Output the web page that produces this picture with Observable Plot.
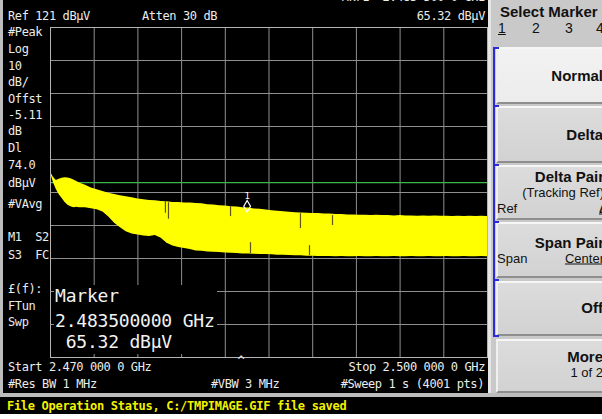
<!DOCTYPE html>
<html>
<head>
<meta charset="utf-8">
<script src="https://cdn.jsdelivr.net/npm/d3@7"></script>
<script src="https://cdn.jsdelivr.net/npm/@observablehq/plot@0.6"></script>
<style>
  html, body { margin:0; padding:0; background:#fff; }
  #screen { position:relative; width:602px; height:419px; overflow:hidden; background:#fff; }
  .abs { position:absolute; white-space:pre; line-height:1; }
  .mono { font-family:"DejaVu Sans Mono", monospace; color:#ececec; font-size:12px; letter-spacing:-0.4px; }
  .big { font-family:"DejaVu Sans Mono", monospace; color:#f2f2f2; font-size:18px; letter-spacing:-0.2px; }
  .key { font-family:"Liberation Sans", Arial, sans-serif; color:#111; }
  .btn { position:absolute; left:496px; width:112px; box-sizing:border-box;
         border-top:2px solid #f6f6f6; border-left:2px solid #f0f0f0;
         border-bottom:2px solid #8e8e8e; border-right:2px solid #8e8e8e;
         background:linear-gradient(#dcdcdc,#d2d2d2); }
</style>
</head>
<body>
<div id="screen">
  <div id="display" class="abs" style="left:0;top:0;width:490px;height:393px;background:#000"></div>
</div>
<script>
// ---------- data ----------
const refLevel = 121;          // dBµV, top of graticule
const dbPerDiv = 10;
const startMHz = 2470, stopMHz = 2500;
const freqGrid = [2470, 2473, 2476, 2479, 2482, 2485, 2488, 2491, 2494, 2497, 2500];
const levelGrid = [21, 31, 41, 51, 61, 71, 81, 91, 101, 111, 121];
const displayLine = 74.0;
const markerFreq = 2483.5, markerLevel = 65.32;

const freq = [2470.0, 2470.2, 2470.4, 2470.6, 2470.8, 2471.0, 2471.2, 2471.4, 2471.6, 2471.8, 2472.0,
  2472.4, 2472.8, 2473.2, 2473.6, 2474.0, 2474.4, 2474.8, 2475.2, 2475.6, 2476.0,
  2476.4, 2476.8, 2477.2, 2477.6, 2478.0, 2478.4, 2478.8, 2479.2, 2479.6, 2480.0,
  2480.4, 2480.8, 2481.2, 2481.6, 2482.0, 2482.4, 2482.8, 2483.2, 2483.6, 2484.0,
  2484.4, 2484.8, 2485.2, 2485.6, 2486.0, 2486.4, 2486.8, 2487.2, 2487.6, 2488.0,
  2488.4, 2488.8, 2489.2, 2489.6, 2490.0, 2490.4, 2490.8, 2491.2, 2491.6, 2492.0,
  2492.4, 2492.8, 2493.2, 2493.6, 2494.0, 2494.4, 2494.8, 2495.2, 2495.6, 2496.0,
  2496.4, 2496.8, 2497.2, 2497.6, 2498.0, 2498.4, 2498.8, 2499.2, 2499.6, 2500.0];
const traceMax = [77.2, 75.6, 74.6, 75.0, 75.3, 75.5, 75.4, 75.2, 74.8, 74.3, 73.9,
  73.2, 72.4, 71.8, 71.3, 70.8, 70.4, 70.0, 69.7, 69.4, 69.0,
  68.8, 68.6, 68.5, 68.3, 68.2, 68.0, 68.0, 67.8, 67.8,
  67.7, 67.6, 67.3, 67.2, 67.0, 66.9, 66.7, 66.6, 66.4, 66.3,
  66.0, 65.9, 65.7, 65.5, 65.3, 65.2, 65.0, 64.9, 64.8, 64.7,
  64.6, 64.6, 64.5, 64.5, 64.3, 64.3, 64.2, 64.2, 64.1, 64.1,
  64.0, 64.1, 64.0, 64.0, 63.9, 64.0, 63.9, 63.9, 63.8, 63.9,
  63.8, 63.9, 63.8, 63.8, 63.7, 63.8, 63.7, 63.8, 63.7, 63.8, 63.7];
const traceMin = [76.9, 74.0, 71.9, 70.3, 69.2, 68.0, 67.1, 66.7, 66.4, 66.5, 66.4,
  66.4, 66.1, 65.8, 65.1, 63.6, 61.7, 60.3, 59.1, 58.4, 58.1,
  57.8, 57.7, 58.0, 57.1, 55.6, 54.8, 54.3, 54.0, 53.7,
  53.3, 53.2, 53.0, 52.9, 52.8, 52.7, 52.6, 52.5, 52.4, 52.4,
  52.3, 52.2, 52.2, 52.1, 52.0, 52.0, 51.9, 51.8, 51.8, 51.7,
  51.7, 51.6, 51.6, 51.6, 51.5, 51.6, 51.5, 51.5, 51.6, 51.5,
  51.5, 51.6, 51.5, 51.5, 51.6, 51.5, 51.5, 51.6, 51.5, 51.5,
  51.6, 51.5, 51.5, 51.6, 51.5, 51.5, 51.6, 51.5, 51.5, 51.6, 51.5];

const spikeFreq = [2477.89, 2478.10, 2482.36, 2483.73, 2487.16, 2487.78, 2489.36];
const spikeTop  = [68.3, 67.9, 66.7, 55.8, 64.6, 54.9, 64.0];
const spikeBot  = [64.7, 62.9, 63.7, 52.5, 60.1, 51.9, 61.0];

// ---------- chart ----------
const trace = freq.map((f, i) => ({f, hi: traceMax[i], lo: traceMin[i]}));
const spikes = spikeFreq.map((f, i) => ({f, top: spikeTop[i], bot: spikeBot[i]}));

const chart = Plot.plot({
  width: 490, height: 393,
  marginLeft: 50, marginRight: 3, marginTop: 27, marginBottom: 36,
  x: {domain: [startMHz, stopMHz], axis: null},
  y: {domain: [refLevel - 10 * dbPerDiv, refLevel], axis: null},
  style: {background: "transparent", overflow: "visible"},
  marks: [
    Plot.ruleX(freqGrid, {stroke: "#8f8f8f", strokeWidth: 1}),
    Plot.ruleY(levelGrid, {stroke: "#8f8f8f", strokeWidth: 1}),
    Plot.ruleY([displayLine], {stroke: "#3fb54c", strokeWidth: 1.2}),
    Plot.areaY(trace, {x: "f", y1: "lo", y2: "hi", fill: "#ffff00", curve: "linear"}),
    Plot.ruleX(spikes, {x: "f", y1: "top", y2: "bot", stroke: "#5e5512", strokeWidth: 1.2}),
    Plot.dot([{f: markerFreq, v: markerLevel}], {x: "f", y: "v", symbol: "diamond", r: 3.5,
      stroke: "#ffffff", fill: "none", strokeWidth: 1.2, dy: -5}),
    Plot.text([{f: markerFreq, v: markerLevel}], {x: "f", y: "v", text: () => "1", dy: -15,
      fill: "#ffffff", fontSize: 9, fontFamily: "DejaVu Sans Mono"}),
    Plot.frame({stroke: "#b5b5b5", strokeWidth: 1})
  ]
});
const disp = document.getElementById("display");
chart.style.position = "absolute"; chart.style.left = "0px"; chart.style.top = "0px";
disp.appendChild(chart);

// ---------- surrounding instrument UI ----------
const screen = document.getElementById("screen");
function box(x, y, w, h, bg, extra = "") {
  const d = document.createElement("div");
  d.className = "abs";
  d.style.cssText += `left:${x}px;top:${y}px;width:${w}px;height:${h}px;background:${bg};${extra}`;
  screen.appendChild(d); return d;
}
function label(txt, x, y, cls, anchor = "start", extra = "") {
  const d = document.createElement("div");
  d.className = "abs " + cls;
  d.textContent = txt;
  const tx = anchor === "end" ? "-100%" : anchor === "middle" ? "-50%" : "0";
  d.style.cssText += `left:${x}px;top:${y}px;transform:translate(${tx},-50%);${extra}`;
  screen.appendChild(d); return d;
}

// left bezel strip
box(0, 0, 3, 393, "#bdbdbd");
// black box behind marker readout
box(54, 285, 163, 69, "#000");

// header
label("Mkr1  2.483 500 0 GHz", 485, -3, "mono", "end");
label("Ref 121 dBµV", 8, 16, "mono");
label("Atten 30 dB", 142, 16, "mono");
label("65.32 dBµV", 485, 16, "mono", "end");

// left annotation column
const leftCol = [["#Peak", 32], ["Log", 49], ["10", 66], ["dB/", 82], ["Offst", 99], ["-5.11", 115],
  ["dB", 131], ["Dl", 148], ["74.0", 165], ["dBµV", 183], ["#VAvg", 204], ["M1  S2", 237],
  ["S3  FC", 255], ["£(f):", 289], ["FTun", 306], ["Swp", 322]];
leftCol.forEach(([t, y]) => label(t, 8, y, "mono"));

// marker readout
label("Marker", 55, 296, "big");
label("2.483500000 GHz", 55, 321, "big");
label(" 65.32 dBµV", 55, 342, "big");

// bottom annotation
label("^", 241, 361, "mono", "middle");
label("Start 2.470 000 0 GHz", 8, 367, "mono");
label("Stop 2.500 000 0 GHz", 485, 367, "mono", "end");
label("#Res BW 1 MHz", 8, 384, "mono");
label("#VBW 3 MHz", 211, 384, "mono");
label("#Sweep 1 s (4001 pts)", 484, 384, "mono", "end");

// right softkey panel
box(488, 0, 3, 396, "#e6e6e6");
box(491, 0, 111, 396, "#c9c9c9");
label("Select Marker", 500, 11, "key", "start", "font-weight:bold;font-size:15px");
label("1", 498, 28, "key", "start", "font-size:14px;text-decoration:underline");
label("2", 532, 28, "key", "start", "font-size:14px");
label("3", 565, 28, "key", "start", "font-size:14px");
label("4", 596, 28, "key", "start", "font-size:14px");

const buttons = [[47, 104, "#ececec"], [106, 163, null], [165, 220, null], [222, 278, null], [281, 336, null], [339, 393, null]];
buttons.forEach(([t, b, bg]) => {
  const d = document.createElement("div");
  d.className = "btn";
  d.style.top = t + "px"; d.style.height = (b - t) + "px";
  if (bg) d.style.background = `linear-gradient(#f2f2f2, ${bg})`;
  screen.appendChild(d);
});
// blue selection bracket
box(493, 47, 2, 290, "#2b2bd8");
[47, 105, 164, 221, 279, 335].forEach(y => box(493, y, 6, 2, "#2b2bd8"));

const keyB = "font-weight:bold;font-size:15px";
const keyR = "font-size:13px";
label("Normal", 603, 75, "key", "end", keyB);
label("Delta", 603, 134, "key", "end", keyB);
label("Delta Pair", 604, 176, "key", "end", keyB);
label("(Tracking Ref)", 604, 192, "key", "end", keyR);
label("Ref", 497, 208, "key", "start", keyR);
label("Δ", 599, 209, "key", "start", "font-size:11px;font-weight:bold;text-decoration:underline");
label("Span Pair", 604, 242, "key", "end", keyB);
label("Span", 497, 258, "key", "start", keyR);
label("Center", 604, 258, "key", "end", keyR + ";text-decoration:underline");
label("Off", 603, 307, "key", "end", keyB);
label("More", 603, 356, "key", "end", keyB);
label("1 of 2", 603, 372, "key", "end", keyR);

// bottom status bar
box(0, 393, 602, 4, "#bcbcbc");
box(0, 397, 602, 17, "#000");
label("File Operation Status, C:/TMPIMAGE.GIF file saved", 7, 406, "mono", "start",
  "color:#f2f200;font-weight:bold;font-size:12px;letter-spacing:-0.3px");
</script>
</body>
</html>
